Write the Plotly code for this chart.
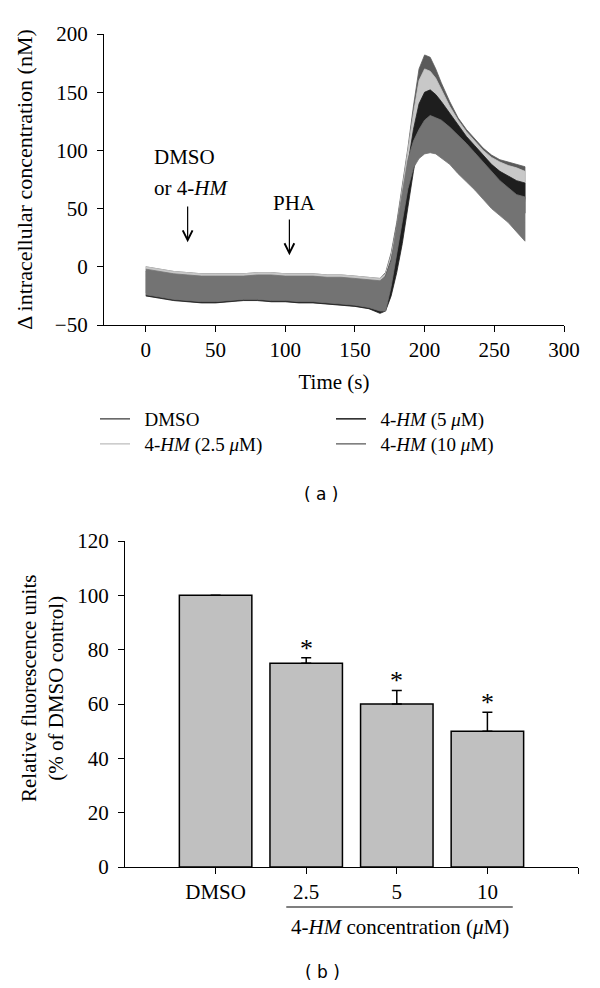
import plotly.graph_objects as go

# ---------------- data: panel (a) -----------------
T = [0, 10, 20, 30, 40, 50, 60, 70, 80, 90, 100, 110, 120, 130, 140, 150, 160, 168,
     172, 176, 180, 184, 188, 192, 196, 200, 204, 208, 212, 218, 224, 230, 236, 242,
     248, 254, 260, 266, 272]

dmso_hi = [0, -2, -4, -5, -6, -6, -6, -6, -5, -5, -6, -6, -6, -7, -7, -8, -9, -10,
           -5, 12, 38, 68, 102, 138, 170, 182, 180, 170, 158, 142, 128, 118, 110, 102, 96, 92, 90, 88, 86]
dmso_lo = [-22, -24, -26, -27, -28, -28, -27, -26, -26, -27, -27, -28, -28, -29, -30, -31, -33, -36,
           -35, -20, 5, 35, 70, 105, 135, 150, 152, 145, 135, 120, 108, 98, 90, 82, 76, 70, 66, 62, 58]

hm25_hi = [0, -2, -4, -5, -6, -6, -6, -6, -5, -5, -6, -6, -6, -7, -7, -8, -9, -10,
           -6, 10, 34, 65, 100, 132, 160, 170, 168, 162, 152, 138, 126, 116, 108, 100, 94, 90, 87, 85, 82]
hm25_lo = [-25, -27, -29, -30, -31, -31, -30, -29, -29, -30, -30, -31, -31, -32, -33, -34, -36, -39,
           -35, -22, 2, 32, 66, 100, 125, 138, 138, 132, 124, 112, 102, 94, 86, 80, 74, 68, 64, 60, 56]

hm5_hi = [-4, -6, -8, -9, -10, -10, -10, -10, -9, -9, -10, -10, -10, -11, -11, -12, -13, -14,
          -8, 6, 28, 55, 88, 118, 140, 150, 152, 148, 142, 132, 122, 112, 104, 96, 88, 82, 78, 74, 72]
hm5_lo = [-25, -27, -29, -30, -31, -31, -30, -29, -29, -30, -30, -31, -31, -32, -33, -34, -36, -40,
          -38, -25, -5, 20, 50, 82, 108, 122, 126, 124, 120, 112, 104, 96, 88, 80, 72, 64, 58, 52, 46]

hm10_hi = [-2, -4, -6, -7, -8, -8, -8, -8, -7, -7, -8, -8, -8, -9, -9, -10, -11, -12,
           -8, 5, 35, 65, 92, 108, 118, 126, 130, 128, 126, 120, 113, 106, 98, 90, 82, 74, 68, 62, 60]
hm10_lo = [-24, -26, -28, -29, -30, -30, -29, -28, -28, -29, -29, -30, -30, -31, -32, -33, -35, -38,
           -38, -17, 12, 40, 67, 85, 93, 97, 98, 97, 93, 88, 80, 73, 66, 58, 50, 44, 38, 30, 22]

series_names = ["DMSO", "4-<i>HM</i> (2.5 <i>μ</i>M)", "4-<i>HM</i> (5 <i>μ</i>M)", "4-<i>HM</i> (10 <i>μ</i>M)"]
series_colors = ["#5a5a5a", "#c8c8c8", "#1e1e1e", "#737373"]
series_legend = ["legend", "legend2", "legend", "legend2"]
series_hi = [dmso_hi, hm25_hi, hm5_hi, hm10_hi]
series_lo = [dmso_lo, hm25_lo, hm5_lo, hm10_lo]

# ---------------- data: panel (b) -----------------
bar_labels = ["DMSO", "2.5", "5", "10"]
bar_pos = [0, 1, 2, 3]
bar_values = [100, 75, 60, 50]
bar_errors = [0, 2, 5, 7]
bar_sig = ["", "*", "*", "*"]

SERIF = "Liberation Serif"
FS = 21
# the page body has an 8px margin: the figure is 592x980 and offset by 8px
OFF = 8
W, H = 600 - OFF, 988 - OFF


def px_x(p):
    return (p - OFF) / W


def px_y(p):
    return 1 - (p - OFF) / H


fig = go.Figure()

for name, col, hi, lo in zip(series_names, series_colors, series_hi, series_lo):
    fig.add_trace(go.Scatter(
        x=T + T[::-1], y=hi + lo[::-1], fill="toself", fillcolor=col,
        line=dict(color=col, width=0.8), mode="lines", showlegend=False,
        hoverinfo="skip", xaxis="x", yaxis="y"))

for name, col, lg in zip(series_names, series_colors, series_legend):
    fig.add_trace(go.Scatter(
        x=[None], y=[None], mode="lines", name="\u00a0\u00a0" + name, legend=lg,
        line=dict(color=col, width=1.5), xaxis="x", yaxis="y"))

fig.add_trace(go.Bar(
    x=bar_pos, y=bar_values, width=0.8,
    marker=dict(color="#c0c0c0", line=dict(color="black", width=1.5)),
    error_y=dict(type="data", array=bar_errors, arrayminus=[0] * 4, symmetric=False,
                 color="black", thickness=1.5, width=5),
    showlegend=False, xaxis="x2", yaxis="y2"))

axis_common = dict(showline=True, linecolor="black", linewidth=1.2, ticks="outside",
                   ticklen=6, tickwidth=1.2, tickcolor="black", showgrid=False,
                   zeroline=False, automargin=False,
                   tickfont=dict(family=SERIF, size=FS, color="black"))

legend_common = dict(orientation="h", xanchor="left", yanchor="middle", entrywidth=191,
                     font=dict(family=SERIF, size=19), bgcolor="rgba(0,0,0,0)")

fig.update_layout(
    template="none",
    width=W, height=H, margin=dict(l=0, r=0, t=0, b=0, pad=0), autosize=False,
    paper_bgcolor="white", plot_bgcolor="white",
    font=dict(family=SERIF, size=FS, color="black"),
    xaxis=dict(domain=[px_x(104), px_x(564)], range=[-30, 300], tickvals=[0, 50, 100, 150, 200, 250, 300],
               title=dict(text="Time (s)", font=dict(family=SERIF, size=FS), standoff=13),
               anchor="y", **axis_common),
    yaxis=dict(domain=[px_y(325), px_y(34)], range=[-50, 200], tickvals=[-50, 0, 50, 100, 150, 200],
               ticklabelstandoff=5,
               title=dict(text="Δ intracellular concentration (nM)", font=dict(family=SERIF, size=22), standoff=16),
               anchor="x", **axis_common),
    xaxis2=dict(domain=[px_x(125), px_x(578)], range=[-1, 4], tickvals=[0, 1, 2, 3, 4],
                ticktext=bar_labels + [""], anchor="y2", **axis_common),
    yaxis2=dict(domain=[px_y(867), px_y(541)], range=[0, 120], tickvals=[0, 20, 40, 60, 80, 100, 120],
                ticklabelstandoff=5, anchor="x2", **axis_common),
    legend=dict(x=px_x(95), y=px_y(419), **legend_common),
    legend2=dict(x=px_x(95), y=px_y(444), **legend_common),
    bargap=0.2,
)

ann = []
# panel (a) texts and arrows
ann.append(dict(x=4.3, y=94, xref="x", yref="y", text="DMSO", showarrow=False,
                xanchor="left", yanchor="middle", font=dict(family=SERIF, size=FS)))
ann.append(dict(x=4.3, y=68, xref="x", yref="y", text="or 4-<i>HM</i>", showarrow=False,
                xanchor="left", yanchor="middle", font=dict(family=SERIF, size=FS)))
ann.append(dict(x=107, y=55, xref="x", yref="y", text="PHA", showarrow=False,
                xanchor="center", yanchor="middle", font=dict(family=SERIF, size=FS)))
ann.append(dict(x=30, y=21, ax=30, ay=53, xref="x", yref="y", axref="x", ayref="y", text="",
                showarrow=True, arrowhead=5, arrowsize=1.6, arrowwidth=1.2, arrowcolor="black"))
ann.append(dict(x=103, y=10, ax=103, ay=42, xref="x", yref="y", axref="x", ayref="y", text="",
                showarrow=True, arrowhead=5, arrowsize=1.6, arrowwidth=1.2, arrowcolor="black"))
# bottom y-axis title (two lines)
ann.append(dict(x=px_x(42), y=px_y(689), xref="paper", yref="paper",
                text="Relative fluorescence units<br>(% of DMSO control)", textangle=-90,
                showarrow=False, xanchor="center", yanchor="middle",
                font=dict(family=SERIF, size=FS)))
# significance stars
for p, v, e, s in zip(bar_pos, bar_values, bar_errors, bar_sig):
    if s:
        ann.append(dict(x=p, y=v + e, xref="x2", yref="y2", text=s, showarrow=False,
                        yanchor="bottom", yshift=-7, font=dict(family=SERIF, size=26)))
# group label under bars
ann.append(dict(x=(0.78 + 3.28) / 2, y=px_y(927), xref="x2", yref="paper",
                text="4-<i>HM</i> concentration (<i>μ</i>M)", showarrow=False,
                xanchor="center", yanchor="middle", font=dict(family=SERIF, size=FS)))
# panel labels
ann.append(dict(x=px_x(321), y=px_y(494), xref="paper", yref="paper", text="( a )", showarrow=False,
                xanchor="center", yanchor="middle", font=dict(family="DejaVu Sans", size=17)))
ann.append(dict(x=px_x(322), y=px_y(972), xref="paper", yref="paper", text="( b )", showarrow=False,
                xanchor="center", yanchor="middle", font=dict(family="DejaVu Sans", size=17)))
fig.update_layout(annotations=ann)

fig.add_shape(type="line", xref="x2", yref="paper", x0=0.78, x1=3.28,
              y0=px_y(907), y1=px_y(907), line=dict(color="black", width=1.2))

fig.write_html("out.html")
